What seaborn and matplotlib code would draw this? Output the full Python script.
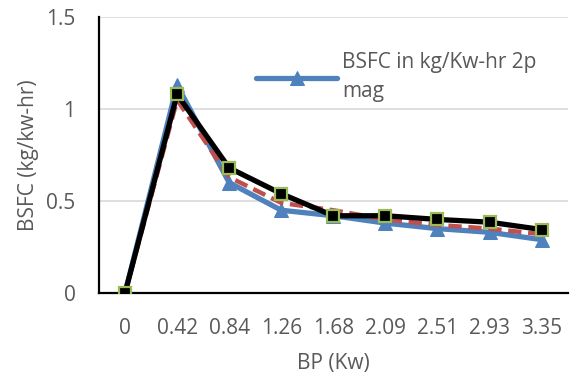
import matplotlib
matplotlib.use("Agg")
import matplotlib.pyplot as plt
import seaborn as sns
import pandas as pd
import numpy as np

bp_labels = ["0", "0.42", "0.84", "1.26", "1.68", "2.09", "2.51", "2.93", "3.35"]
bsfc_2p = [0, 1.13, 0.60, 0.45, 0.42, 0.38, 0.35, 0.33, 0.29]
bsfc_red = [0, 1.05, 0.63, 0.49, 0.45, 0.40, 0.37, 0.35, 0.32]
bsfc_black = [0, 1.08, 0.68, 0.54, 0.42, 0.42, 0.40, 0.385, 0.345]

sns.set_theme(style="white")
plt.rcParams['font.family'] = ['Open Sans', 'DejaVu Sans']

pos = np.arange(len(bp_labels))
df = pd.DataFrame({"pos": pos, "blue": bsfc_2p, "red": bsfc_red, "black": bsfc_black})

fig = plt.figure(figsize=(5.8, 3.81), dpi=100)
ax = fig.add_axes([0.1707, 0.231, 0.808, 0.724])

for v in [0.5, 1.0, 1.5]:
    ax.axhline(v, color="#d9d9d9", lw=1.2, zorder=0)

sns.lineplot(data=df, x="pos", y="blue", ax=ax, color="#4F81BD", lw=3.8,
             marker="^", markersize=10, markeredgecolor="#4F81BD",
             label="BSFC in kg/Kw-hr 2p\nmag", zorder=2)
sns.lineplot(data=df, x="pos", y="red", ax=ax, color="#C0504D", lw=3.2,
             linestyle=(0, (3, 1.5)), label="_red", zorder=3)
sns.lineplot(data=df, x="pos", y="black", ax=ax, color="black", lw=3.8,
             marker="s", markersize=9, markerfacecolor="black",
             markeredgecolor="#9BBB59", markeredgewidth=1.6, label="_black", zorder=4)

ax.set_xlim(-0.5, len(bp_labels) - 0.5)
ax.set_ylim(0, 1.5)
ax.set_xticks(pos)
ax.set_xticklabels(bp_labels)
ax.set_yticks([0, 0.5, 1, 1.5])
ax.set_yticklabels(["0", "0.5", "1", "1.5"])
ax.tick_params(axis="both", labelsize=15, colors="#595959", length=0)
ax.tick_params(axis="x", pad=18)
ax.tick_params(axis="y", pad=17)

for s in ["top", "right"]:
    ax.spines[s].set_visible(False)
for s in ["left", "bottom"]:
    ax.spines[s].set_color("black")
    ax.spines[s].set_linewidth(1.6)

ax.set_xlabel("BP (Kw)", fontsize=15, color="#595959", labelpad=10)
ax.set_ylabel("BSFC (kg/kw-hr)", fontsize=15, color="#595959", labelpad=5)

h, l = ax.get_legend_handles_labels()
leg = ax.legend(h[:1], l[:1], loc="upper left", bbox_to_anchor=(0.295, 0.94),
                frameon=False, fontsize=15, labelcolor="#595959",
                handlelength=3.9, handletextpad=0.25)
for t in leg.get_texts():
    t.set_linespacing(1.45)

fig.savefig("out.png", dpi=100)
